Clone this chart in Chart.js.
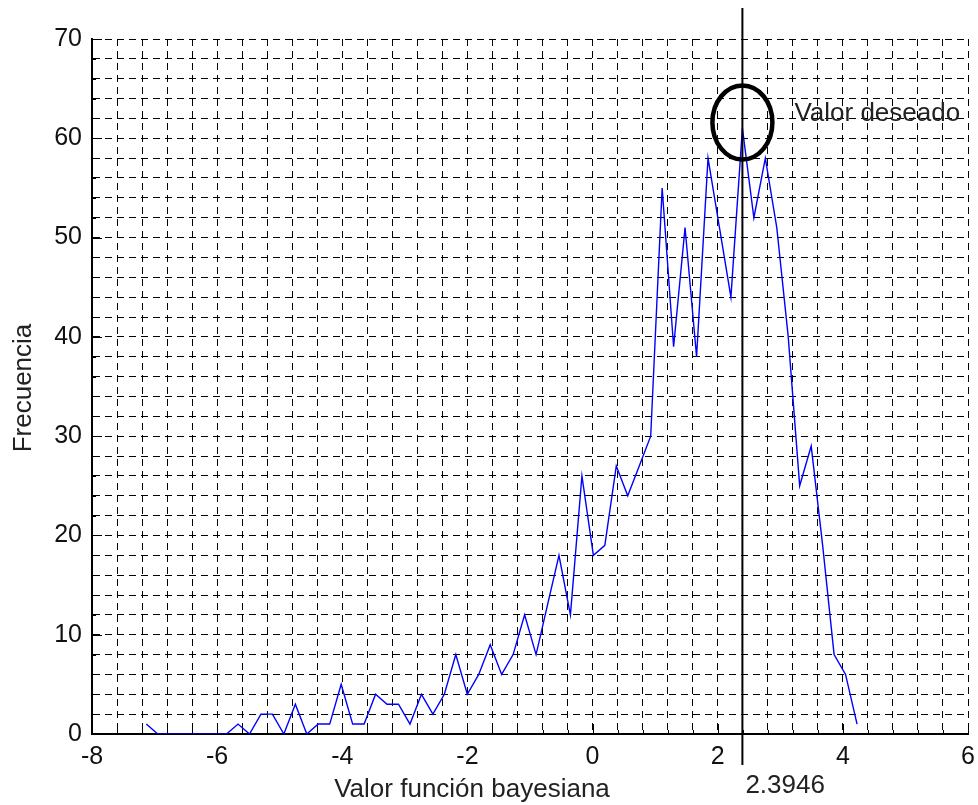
<!DOCTYPE html>
<html>
<head>
<meta charset="utf-8">
<title>Frecuencia - valor función bayesiana</title>
<script src="https://cdn.jsdelivr.net/npm/chart.js@4.4.0/dist/chart.umd.min.js"></script>
<style>
  html, body { margin: 0; padding: 0; background: #fff; }
  #caja { width: 978px; height: 805px; }
</style>
</head>
<body>
<div id="caja"><canvas id="grafico" width="978" height="805"></canvas></div>
<script>
// centros de clase (eje x)
const valoresX = [
  -7.132, -6.949, -6.765, -6.582, -6.399, -6.216, -6.033, -5.850, -5.666, -5.483,
  -5.300, -5.117, -4.934, -4.750, -4.567, -4.384, -4.201, -4.018, -3.834, -3.651,
  -3.468, -3.285, -3.102, -2.918, -2.735, -2.552, -2.369, -2.186, -2.002, -1.819,
  -1.636, -1.453, -1.270, -1.086, -0.903, -0.720, -0.537, -0.354, -0.170, 0.013,
  0.196, 0.379, 0.562, 0.746, 0.929, 1.112, 1.295, 1.478, 1.662, 1.845,
  2.028, 2.211, 2.3946, 2.578, 2.761, 2.944, 3.127, 3.310, 3.494, 3.677,
  3.860, 4.043, 4.227
];

// frecuencia de cada clase
const frecuencias = [
  1, 0, 0, 0, 0, 0, 0, 0, 1, 0,
  2, 2, 0, 3, 0, 1, 1, 5, 1, 1,
  4, 3, 3, 1, 4, 2, 4, 8, 4, 6,
  9, 6, 8, 12, 8, 13, 18, 12, 26, 18,
  19, 27, 24, 27, 30, 55, 39, 51, 38, 58,
  51, 44, 61, 52, 58, 51, 40, 25, 29, 19,
  8, 6, 1
];

// etiquetas de los ejes
const etiquetasX = [-8, -6, -4, -2, 0, 2, 4, 6];
const etiquetasY = [0, 10, 20, 30, 40, 50, 60, 70];

// valor deseado (linea vertical y circulo)
const marcaX = 2.3946;
const marcaY = 61.6;

const fuente = '"Liberation Sans", Arial, sans-serif';

// linea vertical, circulo, textos y marcas hacia dentro
const anotaciones = {
  id: 'anotaciones',
  afterDraw(chart) {
    const { ctx, chartArea, scales: { x, y } } = chart;
    ctx.save();

    // marcas de los ejes (hacia dentro)
    ctx.strokeStyle = '#000';
    ctx.lineWidth = 1;
    x.ticks.forEach((t) => {
      const px = Math.round(x.getPixelForValue(t.value)) + 0.5;
      const largo = etiquetasX.includes(t.value) ? 10 : 4;
      ctx.beginPath();
      ctx.moveTo(px, chartArea.bottom);
      ctx.lineTo(px, chartArea.bottom - largo);
      ctx.stroke();
    });
    y.ticks.forEach((t) => {
      const py = Math.round(y.getPixelForValue(t.value)) + 0.5;
      const largo = etiquetasY.includes(t.value) ? 10 : 4;
      ctx.beginPath();
      ctx.moveTo(chartArea.left, py);
      ctx.lineTo(chartArea.left + largo, py);
      ctx.stroke();
    });

    // linea vertical del valor deseado
    const mx = x.getPixelForValue(marcaX);
    ctx.lineWidth = 2;
    ctx.beginPath();
    ctx.moveTo(mx, 8);
    ctx.lineTo(mx, chartArea.bottom + 31);
    ctx.stroke();

    // circulo
    ctx.lineWidth = 4.5;
    ctx.beginPath();
    ctx.ellipse(mx, y.getPixelForValue(marcaY), 30, 37, 0, 0, Math.PI * 2);
    ctx.stroke();

    // textos
    ctx.fillStyle = '#222';
    ctx.font = '26px ' + fuente;
    ctx.textBaseline = 'alphabetic';
    ctx.textAlign = 'left';
    ctx.fillText('Valor deseado', mx + 52, 121);
    ctx.fillText(String(marcaX), mx + 3, 793);

    ctx.textAlign = 'center';
    ctx.fillText('Valor función bayesiana', 472, 797);

    ctx.translate(31, 388);
    ctx.rotate(-Math.PI / 2);
    ctx.fillText('Frecuencia', 0, 0);

    ctx.restore();
  }
};

const ctx = document.getElementById('grafico').getContext('2d');

new Chart(ctx, {
  type: 'line',
  data: {
    datasets: [{
      label: 'Frecuencia',
      data: valoresX.map((v, i) => ({ x: v, y: frecuencias[i] })),
      borderColor: '#0000ff',
      backgroundColor: '#0000ff',
      borderWidth: 1.4,
      pointRadius: 0,
      tension: 0,
      fill: false
    }]
  },
  options: {
    responsive: false,
    animation: false,
    devicePixelRatio: 1,
    layout: { padding: { top: 39, right: 10, bottom: 0, left: 0 } },
    plugins: {
      legend: { display: false },
      tooltip: { enabled: false }
    },
    scales: {
      x: {
        type: 'linear',
        min: -8,
        max: 6,
        afterFit: (s) => { s.height = 71; s.paddingLeft = 0; s.paddingRight = 0; },
        grid: { color: '#000', lineWidth: 1, drawTicks: false },
        border: { display: true, color: '#000', width: 2, dash: [7, 5] },
        ticks: {
          stepSize: 0.4,
          autoSkip: false,
          maxRotation: 0,
          minRotation: 0,
          padding: 8,
          color: '#111',
          font: { family: fuente, size: 25 },
          callback: (v) => etiquetasX.includes(v) ? String(v) : ''
        }
      },
      y: {
        min: 0,
        max: 70,
        afterFit: (s) => { s.width = 92; s.paddingTop = 0; s.paddingBottom = 0; },
        grid: { color: '#000', lineWidth: 1, drawTicks: false },
        border: { display: true, color: '#000', width: 2, dash: [7, 5] },
        ticks: {
          stepSize: 2,
          autoSkip: false,
          padding: 10,
          color: '#111',
          font: { family: fuente, size: 25 },
          callback: (v) => etiquetasY.includes(v) ? String(v) : ''
        }
      }
    }
  },
  plugins: [anotaciones]
});
</script>
</body>
</html>
